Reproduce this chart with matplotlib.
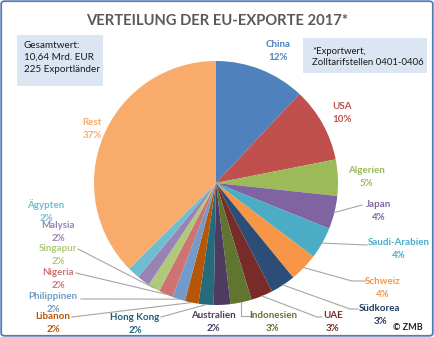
import matplotlib.pyplot as plt
from matplotlib.patches import Rectangle, FancyBboxPatch
import numpy as np

# Anteile der Exportländer in Prozent
laender = ['China', 'USA', 'Algerien', 'Japan', 'Saudi-Arabien', 'Schweiz',
           'Südkorea', 'UAE', 'Indonesien', 'Australien', 'Hong Kong',
           'Libanon', 'Philippinen', 'Nigeria', 'Singapur', 'Malysia',
           'Ägypten', 'Rest']
anteile = [12.0, 9.9, 4.8, 4.4, 4.2, 3.8, 3.3, 2.9, 2.8, 2.2, 2.0,
           1.8, 1.7, 1.9, 1.6, 1.7, 1.6, 37.4]
farben = ['#4F81BD', '#C0504D', '#9BBB59', '#8064A2', '#4BACC6', '#F79646',
          '#2C4D75', '#772C2A', '#5F7530', '#4D3B62', '#276A7C', '#B65708',
          '#729ACA', '#CD7371', '#AFC97A', '#9983B5', '#6FBDD1', '#F9AB6B']
textfarben = ['#4F81BD', '#C0504D', '#9BBB59', '#8064A2', '#4BACC6', '#F79646',
              '#1F3B5E', '#772C2A', '#5F7530', '#4D3B62', '#1F5F7A', '#B65708',
              '#729ACA', '#CD7371', '#AFC97A', '#9983B5', '#6FBDD1', '#F9AB6B']

# Beschriftungspositionen in Pixeln (x, y von oben) und Knickpunkte der Führungslinien
W, H = 434, 337
label_pos = {
    'China': (278, 51), 'USA': (342, 113), 'Algerien': (366, 177),
    'Japan': (379, 211), 'Saudi-Arabien': (399, 249), 'Schweiz': (383, 288),
    'Südkorea': (380, 315), 'UAE': (333, 322), 'Indonesien': (273, 322),
    'Australien': (213, 322), 'Hong Kong': (135, 324), 'Libanon': (53, 323),
    'Philippinen': (53, 303), 'Nigeria': (58, 279), 'Singapur': (58, 255),
    'Malysia': (58, 232), 'Ägypten': (46, 211), 'Rest': (92, 129),
}
leader = {
    'Japan': [(362, 205)],
    'Saudi-Arabien': [(367, 245)],
    'Schweiz': [(352, 281), (366, 281)],
    'Südkorea': [(350, 309), (358, 309)],
    'UAE': [(317, 317), (322, 317)],
    'Indonesien': [None, (250, 316)],
    'Hong Kong': [(161, 317)],
    'Libanon': [(72, 317)],
    'Philippinen': [(81, 299)],
    'Nigeria': [(76, 273)],
    'Singapur': [(78, 249)],
}

plt.rcParams['font.family'] = ['Lato', 'DejaVu Sans']

fig = plt.figure(figsize=(W / 100, H / 100), dpi=100)
fig.patch.set_facecolor('white')


def px(x, y):
    return x / W, 1 - y / H


# Kreisdiagramm: Mittelpunkt (216, 183), Radius 122 px
cx, cy, r = 216, 183, 122
ax = fig.add_axes([(cx - r) / W, (H - cy - r) / H, 2 * r / W, 2 * r / H])
wedges, _ = ax.pie(anteile, colors=farben, startangle=90, counterclock=False,
                   radius=1.0, wedgeprops=dict(linewidth=0))
ax.set_xlim(-1, 1)
ax.set_ylim(-1, 1)
ax.set_aspect('equal')
ax.axis('off')

to_fig = fig.transFigure.inverted()
for name, anteil, w, tc in zip(laender, anteile, wedges, textfarben):
    lx, ly = label_pos[name]
    fig.text(*px(lx, ly), f'{name}\n{anteil:.0f}%', ha='center', va='center',
             fontsize=7, fontweight='bold', color=tc, linespacing=1.45)
    if name in leader:
        mid = np.deg2rad((w.theta1 + w.theta2) / 2)
        ex, ey = ax.transData.transform((np.cos(mid), np.sin(mid)))
        ex, ey = to_fig.transform((ex, ey))
        pts = [(ex, ey)]
        for p in leader[name]:
            if p is None:
                pts.append((ex, px(0, 316)[1]))
            else:
                pts.append(px(*p))
        xs, ys = zip(*pts)
        fig.add_artist(plt.Line2D(xs, ys, transform=fig.transFigure,
                                  color='#A6A6A6', lw=0.8))

# Titel
fig.text(*px(217, 21), 'VERTEILUNG DER EU-EXPORTE 2017*', ha='center', va='center',
         fontsize=10.6, fontweight='bold', color='#595959')

# Infoboxen
fig.add_artist(Rectangle(px(17, 86), 86 / W, 51 / H, transform=fig.transFigure,
                         facecolor='#DCE6F2', edgecolor='none'))
for i, t in enumerate(['Gesamtwert:', '10,64 Mrd. EUR', '225 Exportländer']):
    fig.text(*px(24, 45 + 12.5 * i), t, ha='left', va='center', fontsize=7.1,
             color='#1a1a1a')

fig.add_artist(Rectangle(px(303, 73), 124 / W, 35 / H, transform=fig.transFigure,
                         facecolor='#DCE6F2', edgecolor='none'))
for i, t in enumerate(['*Exportwert,', 'Zolltarifstellen 0401-0406']):
    fig.text(*px(312, 51 + 11.5 * i), t, ha='left', va='center', fontsize=6.9,
             color='#1a1a1a')

fig.text(*px(408, 328), '© ZMB', ha='center', va='center', fontsize=6.5,
         fontweight='bold', color='#262626')

# Rahmen um das gesamte Bild
fig.add_artist(FancyBboxPatch((1.2 / W, 1.2 / H), 1 - 2.4 / W, 1 - 2.4 / H,
                              boxstyle='round,pad=0,rounding_size=0.008',
                              transform=fig.transFigure, facecolor='none',
                              edgecolor='#4F7DB8', lw=1.3))

fig.savefig('out.png', dpi=100)
